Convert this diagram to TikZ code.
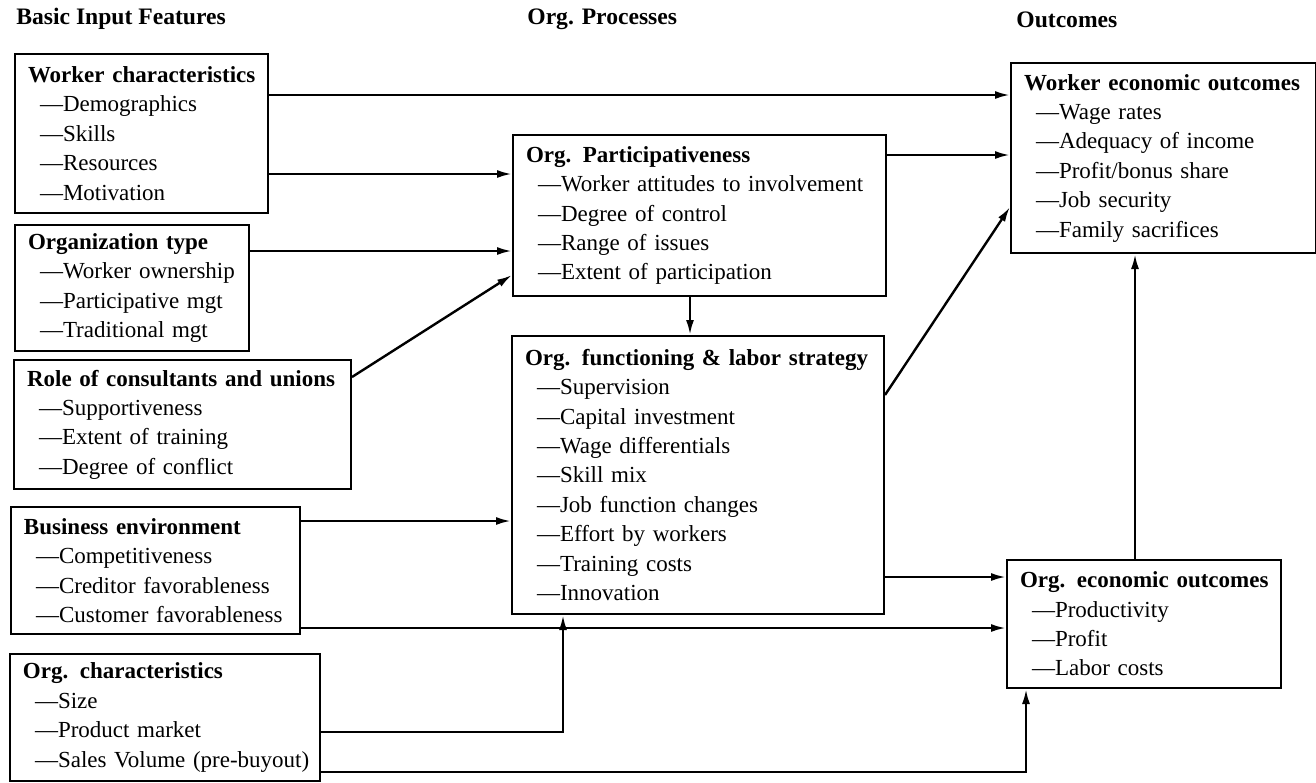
\documentclass[tikz,border=0pt]{standalone}
\usepackage{fontspec}
\setmainfont{Liberation Serif}
\usepackage{tikz}
\usetikzlibrary{arrows.meta}

\newcommand{\dashitem}[1]{\hspace*{6pt}\mbox{---#1}}
\newcommand{\boxhead}[1]{\mbox{\bfseries #1}}

\tikzset{
  box/.style n args={3}{draw, line width=1pt, anchor=north west, align=left,
    inner xsep=6.5pt, minimum width=#1, text width=#2, minimum height=#3},
  title/.style={anchor=base west, inner sep=0pt, font=\fontsize{11.8}{14}\selectfont\bfseries},
  link/.style={line width=1.2pt, -{Latex[length=7.5pt,width=4pt]}}
}

\begin{document}
\begin{tikzpicture}[x=0.5pt, y=-0.5pt, font=\fontsize{11.5}{14.7}\selectfont]
	\useasboundingbox (0,0) rectangle (1316,782);

	% column titles
	\node[title] (hin)   at (16,24)   {Basic Input Features};
	\node[title] (hproc) at (527,24)  {Org. Processes};
	\node[title] (hout)  at (1016,27) {Outcomes};

	% input boxes
	\node[box={126.5pt}{113.5pt}{79.5pt}] (wc) at (14,53)
		{\boxhead{Worker characteristics}\\ \dashitem{Demographics}\\ \dashitem{Skills}\\ \dashitem{Resources}\\ \dashitem{Motivation}};
	\node[box={117pt}{104pt}{63pt}] (ot) at (14,224)
		{\boxhead{Organization type}\\ \dashitem{Worker ownership}\\ \dashitem{Participative mgt}\\ \dashitem{Traditional mgt}};
	\node[box={168.5pt}{155.5pt}{64.5pt}] (rc) at (13,359)
		{\boxhead{Role of consultants and unions}\\ \dashitem{Supportiveness}\\ \dashitem{Extent of training}\\ \dashitem{Degree of conflict}};
	\node[box={144.5pt}{131.5pt}{63.5pt}] (be) at (10,506)
		{\boxhead{Business environment}\\ \dashitem{Competitiveness}\\ \dashitem{Creditor favorableness}\\ \dashitem{Customer favorableness}};
	\node[box={155pt}{142pt}{63.5pt}, inner xsep=5pt] (oc) at (9,653)
		{\boxhead{Org. characteristics}\\ \dashitem{Size}\\ \dashitem{Product market}\\ \dashitem{Sales Volume (pre-buyout)}};

	% process boxes
	\node[box={186.5pt}{173.5pt}{80.5pt}] (op) at (512,134)
		{\boxhead{Org. Participativeness}\\ \dashitem{Worker attitudes to involvement}\\ \dashitem{Degree of control}\\ \dashitem{Range of issues}\\ \dashitem{Extent of participation}};
	\node[box={186pt}{173pt}{139pt}] (of) at (511,335)
		{\boxhead{Org. functioning \& labor strategy}\\ \dashitem{Supervision}\\ \dashitem{Capital investment}\\ \dashitem{Wage differentials}\\ \dashitem{Skill mix}\\ \dashitem{Job function changes}\\ \dashitem{Effort by workers}\\ \dashitem{Training costs}\\ \dashitem{Innovation}};

	% outcome boxes
	\node[box={152.5pt}{139.5pt}{95pt}] (we) at (1010,62)
		{\boxhead{Worker economic outcomes}\\ \dashitem{Wage rates}\\ \dashitem{Adequacy of income}\\ \dashitem{Profit/bonus share}\\ \dashitem{Job security}\\ \dashitem{Family sacrifices}};
	\node[box={137pt}{124pt}{64pt}] (oe) at (1006,559)
		{\boxhead{Org. economic outcomes}\\ \dashitem{Productivity}\\ \dashitem{Profit}\\ \dashitem{Labor costs}};

	% connectors
	\draw[link] (wc.east |- 0,95)  -- (we.west |- 0,95);
	\draw[link] (wc.east |- 0,174) -- (op.west |- 0,174);
	\draw[link] (ot.east |- 0,251) -- (op.west |- 0,251);
	\draw[link] (rc.east |- 0,377) -- (op.west |- 0,275);
	\draw[link] (op.east |- 0,155) -- (we.west |- 0,155);
	\draw[link] (op.south -| 690,0) -- (of.north -| 690,0);
	\draw[link] (of.east |- 0,395) -- (we.west |- 0,207);
	\draw[link] (be.east |- 0,521) -- (of.west |- 0,521);
	\draw[link] (of.east |- 0,577) -- (oe.west |- 0,577);
	\draw[link] (be.east |- 0,628) -- (oe.west |- 0,628);
	\draw[link] (oc.east |- 0,732) -| (of.south -| 563,0);
	\draw[link] (oc.east |- 0,772) -| (oe.south -| 1026,0);
	\draw[link] (oe.north -| 1135,0) -- (we.south -| 1135,0);
\end{tikzpicture}
\end{document}
